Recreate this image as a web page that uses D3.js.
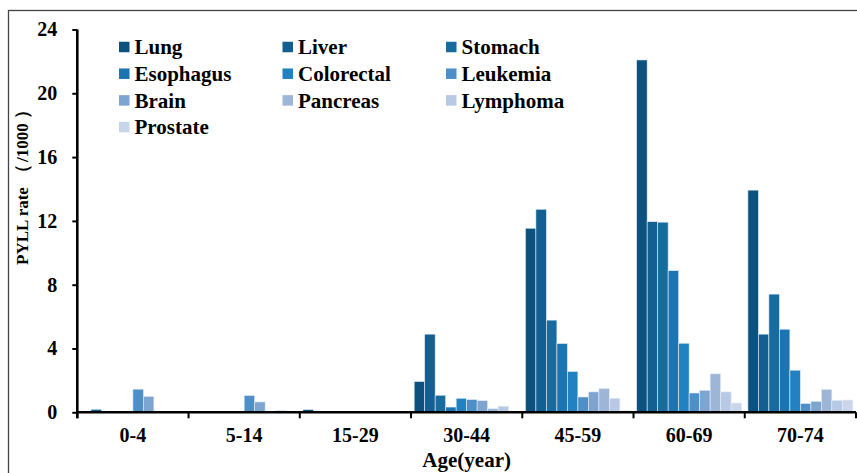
<!DOCTYPE html>
<html>
<head>
<meta charset="utf-8">
<script src="https://cdn.jsdelivr.net/npm/d3@7"></script>
<style>
  html, body { margin: 0; padding: 0; background: #fff; }
  svg { display: block; }
</style>
</head>
<body>
<svg id="chart" width="857" height="473"></svg>
<script>
const categories = ["0-4", "5-14", "15-29", "30-44", "45-59", "60-69", "70-74"];
const seriesNames = ["Lung", "Liver", "Stomach", "Esophagus", "Colorectal", "Leukemia", "Brain", "Pancreas", "Lymphoma", "Prostate"];
const lung       = [0,    0,    0.17, 1.93, 11.54, 22.09, 13.93];
const liver      = [0.19, 0,    0,    4.90, 12.73, 11.95, 4.90];
const stomach    = [0,    0,    0,    1.07, 5.78,  11.92, 7.41];
const esophagus  = [0,    0,    0,    0.33, 4.31,  8.88,  5.21];
const colorectal = [0,    0,    0,    0.88, 2.56,  4.33,  2.64];
const leukemia   = [1.45, 1.05, 0,    0.80, 0.96,  1.21,  0.55];
const brain      = [1.00, 0.65, 0,    0.73, 1.28,  1.38,  0.69];
const pancreas   = [0,    0,    0,    0.23, 1.49,  2.41,  1.44];
const lymphoma   = [0,    0.12, 0,    0.38, 0.88,  1.28,  0.75];
const prostate   = [0,    0,    0,    0,    0.10,  0.58,  0.77];
const seriesValues = [lung, liver, stomach, esophagus, colorectal, leukemia, brain, pancreas, lymphoma, prostate];
const colors = ["#0d527f", "#135f91", "#186b9f", "#1c75b0", "#2281c1", "#4f8fc7", "#7ea4d0", "#9db6d8", "#b7c9e4", "#c9d6ea"];
const yTicks = [0, 4, 8, 12, 16, 20, 24];
const yTitleParts = ["PYLL rate", "（", "/1000", "）"];
const xTitle = "Age(year)";

(function () {
const FONT = "'Liberation Serif', 'Times New Roman', serif";
const svg = d3.select("#chart");
const pL = 77.3, pR = 856, pT = 29.5, pB = 412.3;

// frame
svg.append("rect").attr("x", 8.5).attr("y", 10.5).attr("width", 900).attr("height", 500)
  .attr("fill", "none").attr("stroke", "#444").attr("stroke-width", 1.3);

const x0 = d3.scaleBand().domain(categories).range([pL, pR]).padding(0);
const x1 = d3.scaleBand().domain(seriesNames).range([0, x0.bandwidth()]).paddingInner(0).paddingOuter(0.3);
const y = d3.scaleLinear().domain([0, 24]).range([pB, pT]);

// bars
const rows = categories.map((c, i) => ({ cat: c, vals: seriesNames.map((s, j) => ({ s, v: seriesValues[j][i], c: colors[j] })) }));
const g = svg.append("g");
g.selectAll("g.grp").data(rows).join("g").attr("class", "grp")
  .attr("transform", d => `translate(${x0(d.cat)},0)`)
  .selectAll("rect").data(d => d.vals.filter(e => e.v > 0)).join("rect")
  .attr("x", d => x1(d.s)).attr("width", x1.bandwidth())
  .attr("y", d => y(d.v)).attr("height", d => y(0) - y(d.v))
  .attr("fill", d => d.c).attr("stroke", "#e4edf7").attr("stroke-width", 0.6);

// y axis
const yAxis = d3.axisLeft(y).tickValues(yTicks).tickSize(5).tickPadding(15).tickFormat(d3.format("d"));
const ya = svg.append("g").attr("transform", `translate(${pL},0)`).call(yAxis);
ya.select(".domain").attr("stroke", "#000").attr("stroke-width", 2.6).attr("d", `M0,${pT}V${pB + 6}`);
ya.selectAll(".tick line").attr("stroke", "#000").attr("stroke-width", 2);
ya.selectAll(".tick text").attr("font-size", 20).attr("font-family", FONT).attr("font-weight", "bold").attr("fill", "#000");

// x axis
const xAxis = d3.axisBottom(x0).tickSize(0).tickPadding(16);
const xa = svg.append("g").attr("transform", `translate(0,${pB})`).call(xAxis);
xa.select(".domain").attr("stroke", "#000").attr("stroke-width", 2.4).attr("d", `M${pL},0H${pR}`);
xa.selectAll(".tick text").attr("font-size", 20).attr("font-family", FONT).attr("font-weight", "bold").attr("fill", "#000");
// boundary ticks
const bounds = categories.map(c => x0(c)).concat([pR]);
svg.append("g").selectAll("line").data(bounds).join("line")
  .attr("x1", d => d).attr("x2", d => d).attr("y1", pB).attr("y2", pB + 6)
  .attr("stroke", "#000").attr("stroke-width", 2);

// titles
const yt = svg.append("text").attr("transform", `translate(27.5,265) rotate(-90)`)
  .attr("text-anchor", "start").attr("font-size", 17).attr("font-family", FONT)
  .attr("font-weight", "bold").attr("fill", "#000");
yt.append("tspan").text(yTitleParts[0]);
yt.append("tspan").attr("dx", 5).attr("font-size", 18).text(yTitleParts[1]);
yt.append("tspan").attr("dx", 2).text(yTitleParts[2]);
yt.append("tspan").attr("dx", 4).attr("font-size", 18).text(yTitleParts[3]);
svg.append("text").attr("x", (pL + pR) / 2).attr("y", 467)
  .attr("text-anchor", "middle").attr("font-size", 21).attr("font-family", FONT)
  .attr("font-weight", "bold").attr("fill", "#000").text(xTitle);

// legend
const legX = [119, 282.5, 446], legY0 = 47, legDY = 26.7, sq = 10.5;
const leg = svg.append("g").selectAll("g").data(seriesNames).join("g")
  .attr("transform", (d, i) => `translate(${legX[i % 3]},${legY0 + Math.floor(i / 3) * legDY})`);
leg.append("rect").attr("x", 0).attr("y", -sq / 2).attr("width", sq).attr("height", sq)
  .attr("fill", (d, i) => colors[i]);
leg.append("text").attr("x", 15.5).attr("dy", "0.35em").attr("font-size", 21)
  .attr("font-family", FONT).attr("font-weight", "bold").attr("fill", "#000").text(d => d);
})();
</script>
</body>
</html>
